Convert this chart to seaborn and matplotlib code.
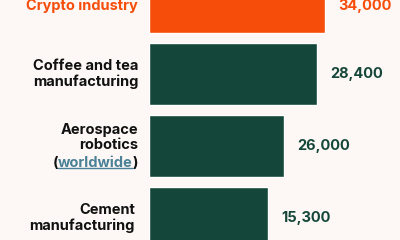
import matplotlib
matplotlib.use("Agg")
import matplotlib.pyplot as plt
import seaborn as sns
import pandas as pd

categories = ["Crypto industry", "Coffee and tea\nmanufacturing", "Aerospace\nrobotics\n(worldwide)", "Cement\nmanufacturing"]
value_labels = ["34,000", "28,400", "26,000", "15,300"]
bar_lengths = [176, 168, 135, 119]   # drawn bar lengths

BG = "#FDF7F5"
ORANGE = "#F74D0B"
GREEN = "#14473A"
LINK = "#4B8196"
colors = [ORANGE, GREEN, GREEN, GREEN]

sns.set_theme(style="white")
plt.rcParams["font.family"] = ["Inter", "DejaVu Sans"]

df = pd.DataFrame({"cat": categories, "len": bar_lengths})

fig = plt.figure(figsize=(4, 2.4), dpi=100, facecolor=BG)
ax = fig.add_axes([149 / 400, 0, 251 / 400, 1])
ax.set_facecolor(BG)
sns.barplot(data=df, y="cat", x="len", hue="cat", palette=dict(zip(categories, colors)),
            orient="h", width=0.86, legend=False, ax=ax, saturation=1)
ax.set_xlim(0, 251)
ax.set_ylim((240 - 2) / 72, -2 / 72)
ax.axis("off")

ytr = ax.get_yaxis_transform()
label_right_px = [138, 138, 138, 135]
text_dy_pt = [-2.8, 0, 0, 0]
fs = 10.5
for i, (cat, vl, ln) in enumerate(zip(categories, value_labels, bar_lengths)):
    lab_x = (label_right_px[i] - 149) / 251
    dy = text_dy_pt[i]
    col = ORANGE if i == 0 else "#111111"
    vcol = ORANGE if i == 0 else GREEN
    ax.annotate(vl, xy=(ln + 13, i), xytext=(0, dy), textcoords="offset points",
                ha="left", va="center", fontsize=10.5, fontweight="bold", color=vcol)
    if "(worldwide)" in cat:
        lines = cat.split("\n")
        ax.annotate("\n".join(lines[:2]), xy=(lab_x, i), xycoords=ytr, xytext=(0, 6.0),
                    textcoords="offset points", ha="right", va="center", fontsize=fs,
                    fontweight="bold", color=col, linespacing=1.1)
        # third line, composed of pieces
        fig.canvas.draw()
        r = fig.canvas.get_renderer()
        t1 = ax.annotate(")", xy=(lab_x, i), xycoords=ytr, xytext=(0, -12.0),
                         textcoords="offset points", ha="right", va="center", fontsize=fs,
                         fontweight="bold", color=col)
        w1 = t1.get_window_extent(r).width * 72 / fig.dpi
        t2 = ax.annotate("worldwide", xy=(lab_x, i), xycoords=ytr, xytext=(-w1, -12.0),
                         textcoords="offset points", ha="right", va="center", fontsize=fs,
                         fontweight="bold", color=LINK)
        bb = t2.get_window_extent(r)
        w2 = bb.width * 72 / fig.dpi
        ax.annotate("(", xy=(lab_x, i), xycoords=ytr, xytext=(-w1 - w2, -12.0),
                    textcoords="offset points", ha="right", va="center", fontsize=fs,
                    fontweight="bold", color=col)
        # underline
        yline = bb.y0 + 1.5
        fig.add_artist(plt.Line2D([bb.x0 / 400, bb.x1 / 400], [yline / 240, yline / 240],
                                  color=LINK, lw=1.0))
    else:
        ax.annotate(cat, xy=(lab_x, i), xycoords=ytr, xytext=(0, dy),
                    textcoords="offset points", ha="right", va="center", fontsize=fs,
                    fontweight="bold", color=col, linespacing=1.1)

fig.savefig("out.png", dpi=100, facecolor=BG)
